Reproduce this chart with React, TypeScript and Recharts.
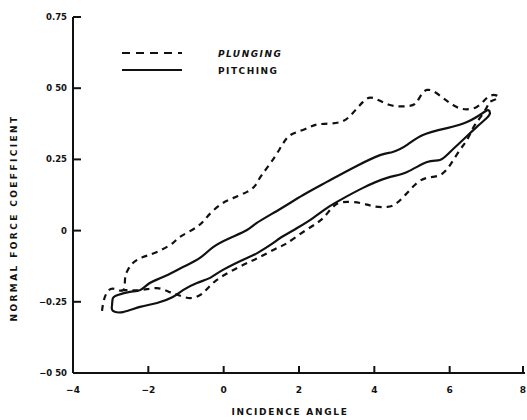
import React from "react";
import { LineChart, Line, XAxis, YAxis, Legend } from "recharts";

// Incidence angle (deg) / normal force coefficient, traced loops
const pitchingAngle = [
  -2.965, -2.94, -2.81, -2.49, -2.22, -1.96, -1.61, -1.08, -0.63, -0.28, 0.17, 0.62, 0.88, 1.5, 2.11,
  2.74, 3.43, 4.15, 4.49, 4.87, 5.29, 5.93, 6.46, 6.88, 7.02, 7.07, 6.99, 6.72, 6.35, 6.01, 5.74, 5.4,
  4.87, 4.34, 3.7, 3.09, 2.74, 2.37, 1.95, 1.5, 1.31, 0.88, 0.62, -0.02, -0.36, -0.71, -1.08, -1.35,
  -1.77, -2.22, -2.67, -2.94, -2.965,
];
const pitchingCoeff = [
  -0.265, -0.237, -0.226, -0.215, -0.209, -0.184, -0.163, -0.128, -0.096, -0.058, -0.026, 0.002, 0.027,
  0.076, 0.125, 0.171, 0.22, 0.265, 0.276, 0.301, 0.336, 0.36, 0.381, 0.413, 0.423, 0.413, 0.396, 0.364,
  0.318, 0.276, 0.248, 0.241, 0.206, 0.185, 0.15, 0.107, 0.079, 0.044, 0.009, -0.026, -0.044, -0.08,
  -0.096, -0.138, -0.166, -0.184, -0.209, -0.233, -0.254, -0.268, -0.286, -0.282, -0.265,
];
const plungingAngle = [
  -3.23, -3.18, -3.07, -2.89, -2.67, -2.62, -2.57, -2.41, -2.14, -1.77, -1.35, -1.16, -0.71, -0.44,
  -0.1, 0.25, 0.62, 0.83, 0.96, 1.15, 1.42, 1.68, 1.95, 2.29, 2.56, 3.09, 3.43, 3.7, 3.96, 4.42, 4.87,
  5.13, 5.4, 5.82, 6.09, 6.35, 6.72, 6.99, 7.2, 7.28, 7.07, 6.99, 6.8, 6.62, 6.46, 6.27, 6.01, 5.74,
  5.4, 5.13, 4.87, 4.6, 4.34, 3.96, 3.62, 3.17, 2.9, 2.69, 2.48, 2.11, 1.68, 1.42, 0.96, 0.51, -0.18,
  -0.55, -0.89, -1.21, -1.43, -1.77, -2.22, -2.67, -2.83,
];
const plungingCoeff = [
  -0.282, -0.244, -0.212, -0.205, -0.209, -0.173, -0.145, -0.114, -0.093, -0.075, -0.044, -0.022, 0.013,
  0.048, 0.09, 0.114, 0.136, 0.157, 0.185, 0.22, 0.272, 0.325, 0.346, 0.364, 0.374, 0.381, 0.413, 0.452,
  0.466, 0.441, 0.437, 0.452, 0.494, 0.466, 0.441, 0.427, 0.434, 0.466, 0.476, 0.466, 0.452, 0.434,
  0.395, 0.36, 0.318, 0.283, 0.23, 0.195, 0.185, 0.167, 0.132, 0.097, 0.083, 0.086, 0.097, 0.1, 0.083,
  0.051, 0.027, -0.005, -0.044, -0.061, -0.093, -0.121, -0.173, -0.219, -0.237, -0.226, -0.216, -0.202,
  -0.209, -0.209, -0.216,
];
const xTicks = [-4, -2, 0, 2, 4, 6, 8];
const xTickLabels = ["\u22124", "\u22122", "0", "2", "4", "6", "8"];
const yTicks = [-0.5, -0.25, 0, 0.25, 0.5, 0.75];
const yTickLabels = ["\u22120 50", "\u22120.25", "0", "0.25", "0 50", "0.75"];

const pitching = pitchingAngle.map((a, i) => ({ angle: a, coeff: pitchingCoeff[i] }));
const plunging = plungingAngle.map((a, i) => ({ angle: a, coeff: plungingCoeff[i] }));

const FONT = "'DejaVu Sans', sans-serif";
const INK = "#111";

const XTick = (props: any) => {
  const { x, y, payload } = props;
  const i = xTicks.indexOf(payload.value);
  return (
    <g>
      <line x1={x} y1={y} x2={x} y2={y - 7} stroke={INK} strokeWidth={2} />
      <text x={x} y={y + 20} textAnchor="middle" fontFamily={FONT} fontWeight="bold" fontSize={9} fill={INK}>
        {i >= 0 ? xTickLabels[i] : payload.value}
      </text>
    </g>
  );
};

const YTick = (props: any) => {
  const { x, y, payload } = props;
  const i = yTicks.indexOf(payload.value);
  return (
    <g>
      <line x1={x} y1={y} x2={x + 8} y2={y} stroke={INK} strokeWidth={2} />
      <text x={x - 6} y={y + 3} textAnchor="end" fontFamily={FONT} fontWeight="bold" fontSize={8.5} fill={INK}>
        {i >= 0 ? yTickLabels[i] : payload.value}
      </text>
    </g>
  );
};

const YLabel = () => (
  <text
    x={14}
    y={218}
    transform="rotate(-90 14 218)"
    textAnchor="middle"
    dominantBaseline="central"
    fontFamily={FONT}
    fontWeight="bold"
    fontSize={9}
    letterSpacing={2.4}
    fill={INK}
  >
    NORMAL FORCE COEFFICIENT
  </text>
);

const XLabel = () => (
  <text
    x={290}
    y={412}
    textAnchor="middle"
    dominantBaseline="central"
    fontFamily={FONT}
    fontWeight="bold"
    fontSize={9}
    letterSpacing={1.7}
    fill={INK}
  >
    INCIDENCE ANGLE
  </text>
);

const LegendBox = () => (
  <svg width={200} height={36}>
    <line x1={2} y1={8} x2={62} y2={8} stroke={INK} strokeWidth={2} strokeDasharray="8 6" />
    <text x={98} y={12} fontFamily={FONT} fontWeight="bold" fontStyle="italic" fontSize={9} letterSpacing={1.5} fill={INK}>
      PLUNGING
    </text>
    <line x1={2} y1={25} x2={62} y2={25} stroke={INK} strokeWidth={2} />
    <text x={98} y={29} fontFamily={FONT} fontWeight="bold" fontSize={9} letterSpacing={1.5} fill={INK}>
      PITCHING
    </text>
  </svg>
);

export default function App() {
  return (
    <div style={{ position: "absolute", left: 0, top: 0, background: "#fff" }}>
      <LineChart width={527} height={420} margin={{ top: 17, right: 2, bottom: 0, left: 0 }}>
        <XAxis
          type="number"
          dataKey="angle"
          domain={[-4, 8]}
          ticks={xTicks}
          height={47}
          tick={<XTick />}
          tickSize={0}
          tickMargin={0}
          tickLine={false}
          axisLine={{ stroke: INK, strokeWidth: 2 }}
          allowDuplicatedCategory={false}
          label={<XLabel />}
        />
        <YAxis
          type="number"
          dataKey="coeff"
          domain={[-0.5, 0.75]}
          ticks={yTicks}
          width={73}
          tick={<YTick />}
          tickSize={0}
          tickMargin={0}
          tickLine={false}
          axisLine={{ stroke: INK, strokeWidth: 2 }}
          label={<YLabel />}
        />
        <Legend
          layout="vertical"
          align="center"
          verticalAlign="middle"
          wrapperStyle={{ left: 120, top: 45, width: 200 }}
          content={<LegendBox />}
        />
        <Line
          data={plunging}
          dataKey="coeff"
          name="PLUNGING"
          type="natural"
          stroke={INK}
          strokeWidth={2.2}
          strokeDasharray="6 5"
          dot={false}
          isAnimationActive={false}
        />
        <Line
          data={pitching}
          dataKey="coeff"
          name="PITCHING"
          type="natural"
          stroke={INK}
          strokeWidth={2.2}
          dot={false}
          isAnimationActive={false}
        />
      </LineChart>
    </div>
  );
}
